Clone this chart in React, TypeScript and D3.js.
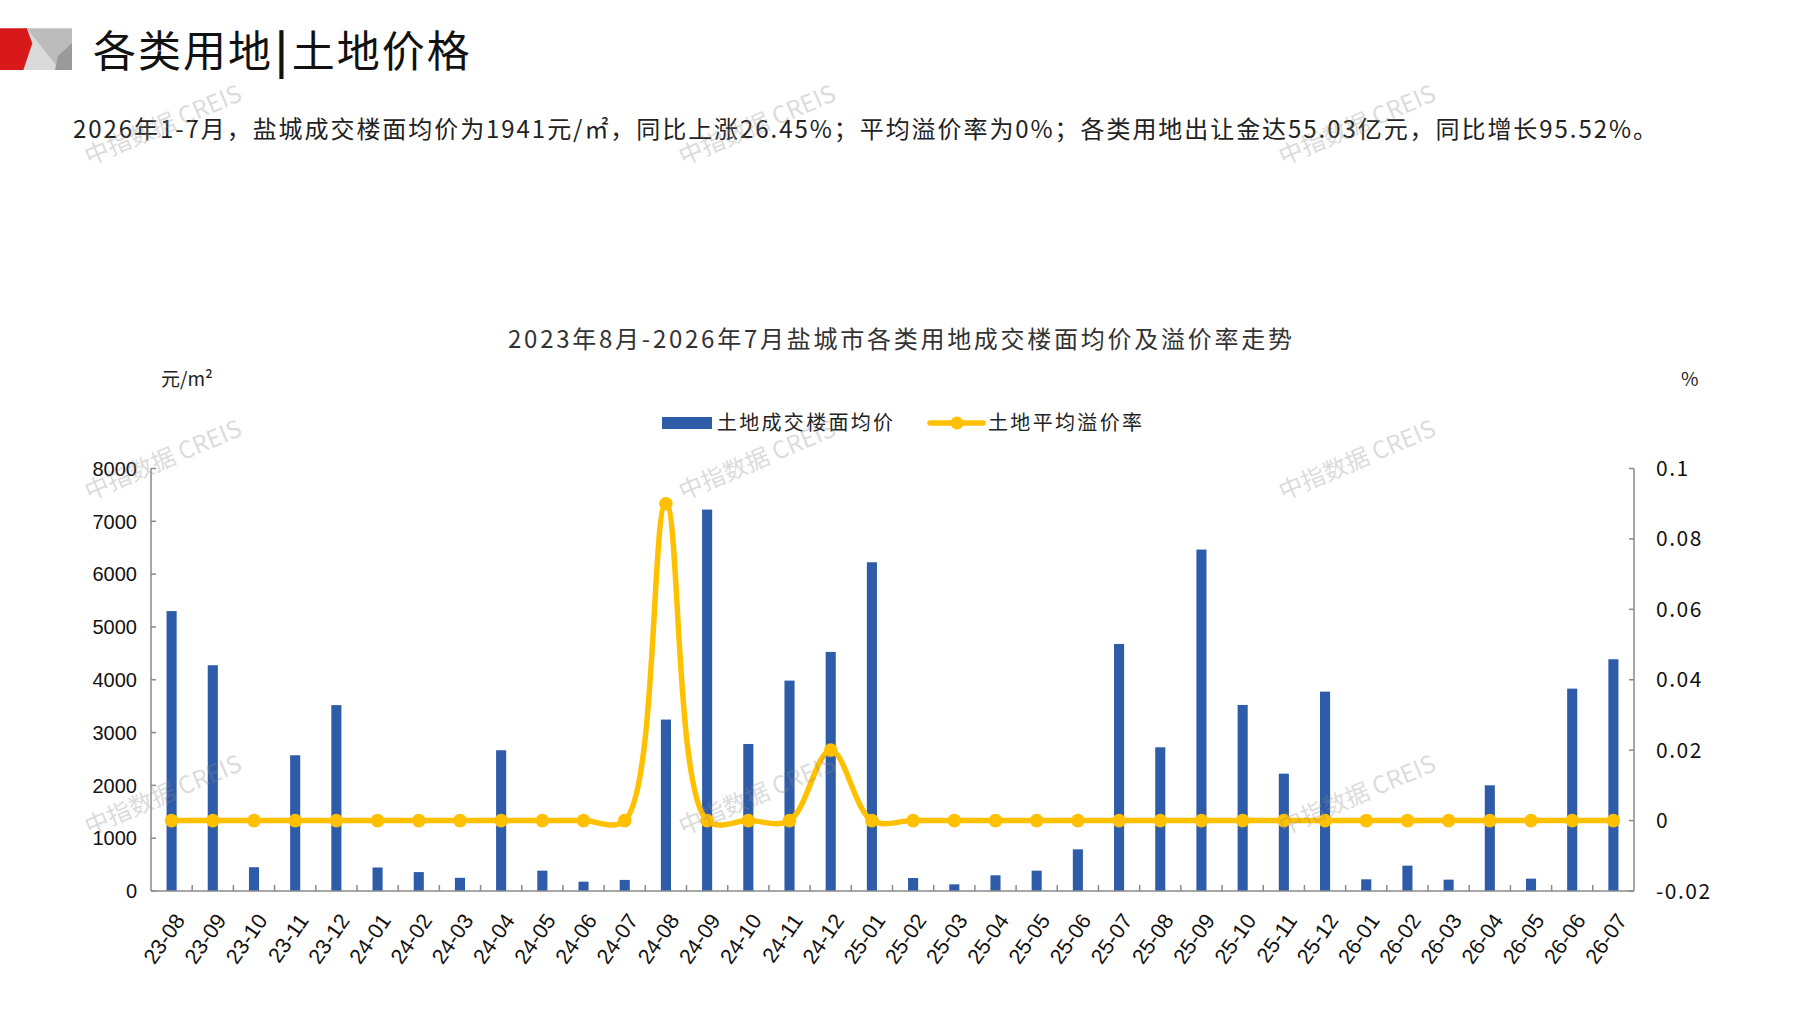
import React from 'react';
import * as d3 from 'd3';

const months = [
  '23-08', '23-09', '23-10', '23-11', '23-12', '24-01', '24-02', '24-03', '24-04', '24-05', '24-06', '24-07',
  '24-08', '24-09', '24-10', '24-11', '24-12', '25-01', '25-02', '25-03', '25-04', '25-05', '25-06', '25-07',
  '25-08', '25-09', '25-10', '25-11', '25-12', '26-01', '26-02', '26-03', '26-04', '26-05', '26-06', '26-07',
];
// 土地成交楼面均价 (元/㎡)
const landPrice = [
  5300, 4275, 450, 2570, 3520, 445, 358, 250, 2665, 385, 176, 210,
  3246, 7222, 2784, 3984, 4527, 6225, 246, 126, 297, 385, 789, 4678,
  2721, 6465, 3523, 2222, 3775, 221, 480, 215, 2001, 234, 3832, 4388,
];
// 土地平均溢价率
const premiumRate = [
  0, 0, 0, 0, 0, 0, 0, 0, 0, 0, 0, 0,
  0.09, 0, 0, 0, 0.02, 0, 0, 0, 0, 0, 0, 0,
  0, 0, 0, 0, 0, 0, 0, 0, 0, 0, 0, 0,
];
const leftTicks = [0, 1000, 2000, 3000, 4000, 5000, 6000, 7000, 8000];
const rightTicks = [-0.02, 0, 0.02, 0.04, 0.06, 0.08, 0.1];
const rightTickLabels = ['-0.02', '0', '0.02', '0.04', '0.06', '0.08', '0.1'];

const pageTitle = '各类用地';
const pageTitle2 = '土地价格';
const summary = '2026年1-7月，盐城成交楼面均价为1941元/㎡，同比上涨26.45%；平均溢价率为0%；各类用地出让金达55.03亿元，同比增长95.52%。';
const chartTitle = '2023年8月-2026年7月盐城市各类用地成交楼面均价及溢价率走势';
const seriesNames = ['土地成交楼面均价', '土地平均溢价率'];
const watermarkRows = [125, 460, 795];
const watermarkCols = [163, 757, 1357];

const W = 1797, H = 1010;
const BLUE = '#2E5CA8';
const GOLD = '#FFC000';
const AXIS = '#8a8a8a';
const CJK = '"Noto Sans CJK SC", "Noto Sans", sans-serif';
const LAT = '"Liberation Sans", Arial, sans-serif';

export default function App() {
  const left = 151, right = 1634, top = 468.5, bottom = 891;

  const x = d3.scaleBand<string>().domain(months).range([left, right]).padding(0);
  const yL = d3.scaleLinear().domain([0, 8000]).range([bottom, top]);
  const yR = d3.scaleLinear().domain([-0.02, 0.1]).range([bottom, top]);
  const cx = (m: string) => (x(m) ?? 0) + x.bandwidth() / 2;
  const barW = x.bandwidth() * 0.245;

  const line = d3.line<number>()
    .x((_, i) => cx(months[i]))
    .y(d => yR(d))
    .curve(d3.curveCatmullRom.alpha(0.5));

  return (
    <svg width={W} height={H} viewBox={`0 0 ${W} ${H}`}
      style={{ position: 'absolute', left: 0, top: 0, background: '#fff', display: 'block' }}>
      <rect x={0} y={0} width={W} height={H} fill="#fff" />

      {/* logo */}
      <rect x={23} y={28.3} width={49} height={41.7} fill="#bcbcbc" />
      <polygon points="26.7,28.3 60,70 23.3,70 32.3,43.3" fill="#dadada" />
      <polygon points="72,43 72,70 55,70 58,56" fill="#9a9a9a" />
      <polygon points="0,28.3 26.7,28.3 32.3,43.3 23.3,70 0,70" fill="#d7191c" />

      <text x={93} y={67} fontFamily={CJK} fontSize={43} fill="#111" letterSpacing={2}>
        {pageTitle}
        <tspan fontWeight={700} dx={2}>|</tspan>
        <tspan dx={2}>{pageTitle2}</tspan>
      </text>

      <text x={73} y={138} fontFamily={CJK} fontSize={24} fill="#222"
        textLength={1584} lengthAdjust="spacing">{summary}</text>

      <text x={508} y={348} fontFamily={CJK} fontSize={24} fill="#333"
        textLength={784} lengthAdjust="spacing">{chartTitle}</text>

      <text x={161} y={386} fontFamily={CJK} fontSize={19} fill="#222">元/m²</text>
      <text x={1681} y={386} fontFamily={CJK} fontSize={19} fill="#222">%</text>

      {/* legend */}
      <rect x={662} y={417} width={50} height={12} fill={BLUE} />
      <text x={717} y={430} fontFamily={CJK} fontSize={20} fill="#222" textLength={176} lengthAdjust="spacing">{seriesNames[0]}</text>
      <line x1={930} x2={983} y1={423} y2={423} stroke={GOLD} strokeWidth={5.5} strokeLinecap="round" />
      <circle cx={957} cy={423} r={6.5} fill={GOLD} />
      <text x={988} y={430} fontFamily={CJK} fontSize={20} fill="#222" textLength={154} lengthAdjust="spacing">{seriesNames[1]}</text>

      {/* bars */}
      {landPrice.map((v, i) => (
        <rect key={months[i]} x={cx(months[i]) - barW / 2} y={yL(v)} width={barW} height={yL(0) - yL(v)} fill={BLUE} />
      ))}

      {/* axes */}
      <line x1={left} x2={left} y1={top} y2={bottom} stroke={AXIS} strokeWidth={1.5} />
      <line x1={right} x2={right} y1={top} y2={bottom} stroke={AXIS} strokeWidth={1.5} />
      <line x1={left} x2={right} y1={bottom} y2={bottom} stroke={AXIS} strokeWidth={1.5} />
      {leftTicks.map(t => (
        <g key={'l' + t}>
          <line x1={left} x2={left + 5} y1={yL(t)} y2={yL(t)} stroke={AXIS} strokeWidth={1.5} />
          <text x={left - 14} y={yL(t)} dy="0.36em" textAnchor="end" fontFamily={LAT} fontSize={20} fill="#111">{t}</text>
        </g>
      ))}
      {rightTicks.map((t, i) => (
        <g key={'r' + t}>
          <line x1={right - 5} x2={right} y1={yR(t)} y2={yR(t)} stroke={AXIS} strokeWidth={1.5} />
          <text x={right + 22} y={yR(t)} dy="0.36em" fontFamily={CJK} fontSize={21} letterSpacing={1.5} fill="#111">{rightTickLabels[i]}</text>
        </g>
      ))}
      {months.map((m, i) => i === 0 ? null : (
        <line key={'t' + m} x1={x(m)} x2={x(m)} y1={bottom} y2={bottom - 6} stroke={AXIS} strokeWidth={1.5} />
      ))}
      {months.map(m => (
        <text key={'x' + m} transform={`translate(${cx(m) + 8},${bottom + 25}) rotate(-55)`}
          textAnchor="end" dy="0.36em" fontFamily={LAT} fontSize={21.5} fill="#111">{m}</text>
      ))}

      {/* premium rate line */}
      <path d={line(premiumRate) ?? ''} fill="none" stroke={GOLD} strokeWidth={5.5} />
      {premiumRate.map((v, i) => (
        <circle key={'c' + i} cx={cx(months[i])} cy={yR(v)} r={6.8} fill={GOLD} />
      ))}

      {/* watermarks */}
      {watermarkRows.map(ry => watermarkCols.map(rx => (
        <text key={`w${rx}-${ry}`} transform={`translate(${rx},${ry}) rotate(-23)`} textAnchor="middle" dy="0.35em"
          fontFamily={CJK} fontSize={24} fill="#8c8c8c" opacity={0.3}>中指数据 CREIS</text>
      )))}
    </svg>
  );
}
